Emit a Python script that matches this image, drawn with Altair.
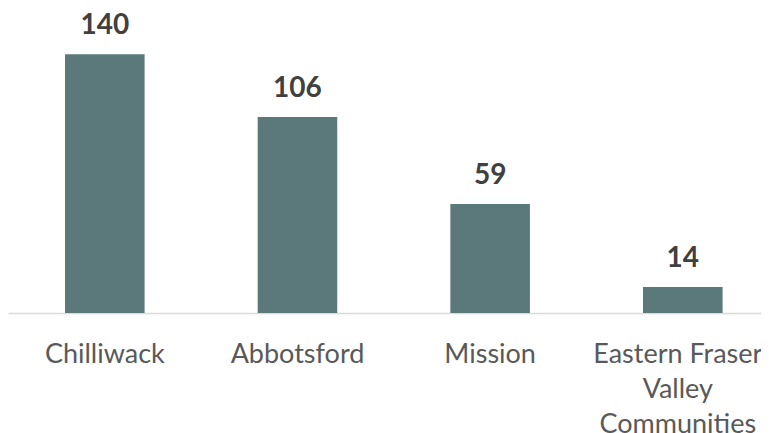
import altair as alt
import pandas as pd

categories = ["Chilliwack", "Abbotsford", "Mission", "Eastern Fraser Valley Communities"]
values = [140, 106, 59, 14]
label_lines = {
    "Eastern Fraser Valley Communities": ["Eastern Fraser", "Valley", "Communities"],
}

df = pd.DataFrame({"community": categories, "count": values})

last = "Eastern Fraser Valley Communities"
label_expr = "datum.value == '" + last + "' ? " + str(label_lines[last]) + " : datum.value"

x_enc = alt.X(
    "community:N",
    sort=categories,
    scale=alt.Scale(paddingInner=0.587, paddingOuter=0.2477, align=0.5975, round=False),
    axis=alt.Axis(
        title=None,
        ticks=False,
        tickSize=0,
        labelAngle=0,
        labelFont="Lato",
        labelFontSize=27,
        labelColor="#595959",
        labelPadding=28,
        labelBaseline="top",
        labelLineHeight=35,
        labelExpr=label_expr,
        labelOffset={"condition": {"test": "datum.value == '" + last + "'", "value": -5}, "value": 0},
        domainColor="#d9d9d9",
        domainWidth=1.5,
        grid=False,
        labelLimit=300,
    ),
)
y_enc = alt.Y("count:Q", scale=alt.Scale(domain=[0, 165]), axis=None)

base = alt.Chart(df).encode(x=x_enc, y=y_enc)

bars = base.mark_bar(color="#5B787A")
labels = base.mark_text(
    dy=-20,
    baseline="alphabetic",
    font="Lato",
    fontSize=28,
    fontWeight="bold",
    color="#404040",
).encode(text="count:Q")

chart = (
    (bars + labels)
    .properties(
        width=753,
        height=305,
        autosize=alt.AutoSizeParams(type="none"),
        padding={"left": 0, "top": 0, "right": 0, "bottom": 120},
    )
    .configure_view(stroke=None)
)

chart.save("out.html", embed_options={"renderer": "svg", "actions": False})
